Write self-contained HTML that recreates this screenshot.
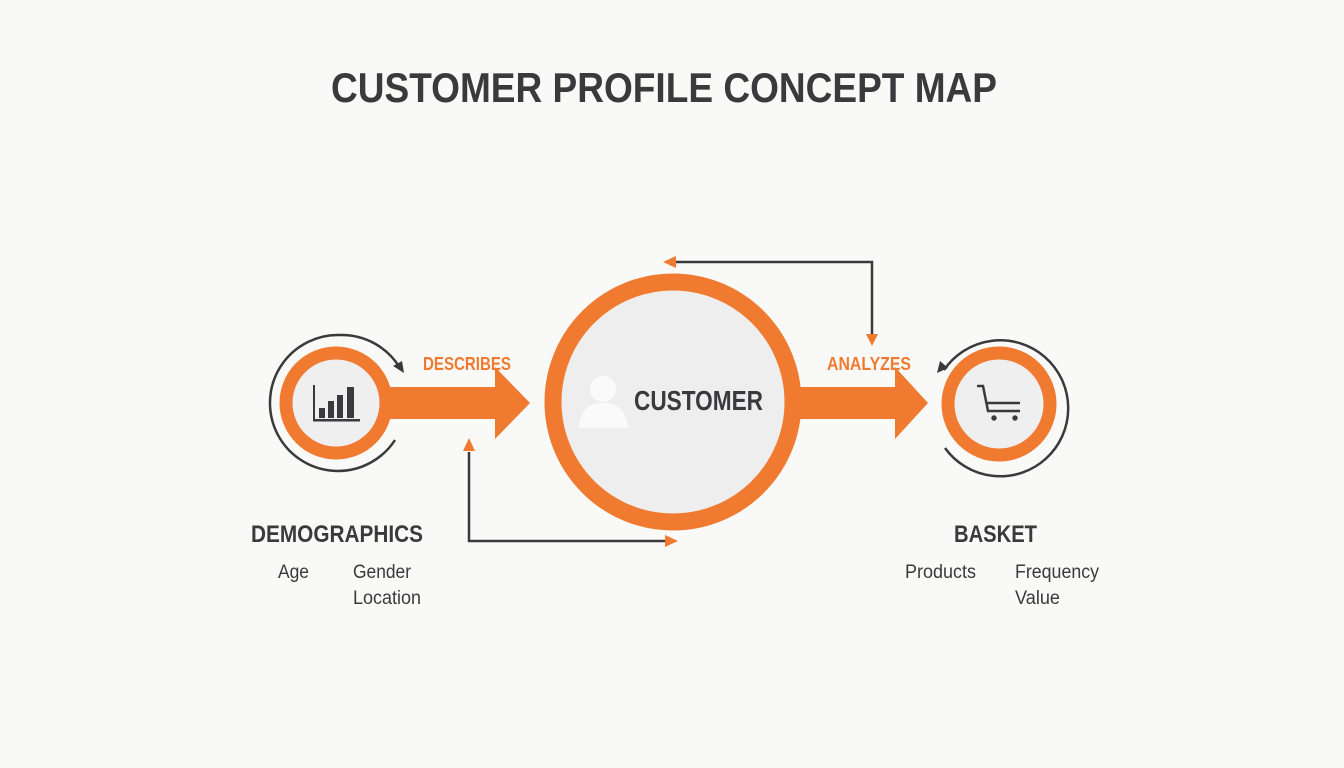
<!DOCTYPE html>
<html><head><meta charset="utf-8"><style>
html,body{margin:0;padding:0;background:#f9f9f8;}
svg{display:block}
text{font-family:"Liberation Sans Narrow","Liberation Sans",sans-serif;}
</style></head><body>
<svg width="1344" height="768" viewBox="0 0 1344 768">
<rect width="1344" height="768" fill="#f9f9f8"/>
<text x="664" y="102" text-anchor="middle" font-size="42" font-weight="bold" fill="#3a3a3c" textLength="666" lengthAdjust="spacingAndGlyphs">CUSTOMER PROFILE CONCEPT MAP</text>

<g stroke="#3a3a3c" stroke-width="2.5" fill="none">
<path d="M872 336 V262 H672"/>
<path d="M469 452 V541 H668"/>
</g>
<polygon points="663,262 676,256 676,268" fill="#f07a30"/>
<polygon points="872,346 866,334 878,334" fill="#f07a30"/>
<polygon points="678,541 665,535 665,547" fill="#f07a30"/>
<polygon points="469,438 463,451 475,451" fill="#f07a30"/>

<rect x="380" y="387" width="118" height="32" fill="#f07a30"/>
<polygon points="495,367 530,403 495,439" fill="#f07a30"/>
<rect x="795" y="387" width="103" height="32" fill="#f07a30"/>
<polygon points="895,367 928,403 895,439" fill="#f07a30"/>

<text x="423" y="370" font-size="18" font-weight="bold" fill="#f07a30" textLength="88" lengthAdjust="spacingAndGlyphs">DESCRIBES</text>
<text x="827" y="370" font-size="18" font-weight="bold" fill="#f07a30" textLength="84" lengthAdjust="spacingAndGlyphs">ANALYZES</text>

<path d="M340 335 A68 68 0 0 1 400 368" stroke="#3a3a3c" stroke-width="2.5" fill="none"/>
<polygon points="404,373 393,366 402,361" fill="#3a3a3c"/>
<path d="M395 440 A68 68 0 1 1 340 335" stroke="#3a3a3c" stroke-width="2.5" fill="none"/>
<circle cx="336" cy="403" r="50" fill="#efefef" stroke="#f07a30" stroke-width="13"/>
<g fill="#3a3a3c">
<rect x="313" y="385" width="2" height="36"/>
<rect x="313" y="419" width="47" height="2.5"/>
<rect x="319" y="408" width="6" height="10"/>
<rect x="328" y="401" width="6" height="17"/>
<rect x="337" y="395" width="6" height="23"/>
<rect x="347" y="387" width="7" height="31"/>
</g>

<circle cx="673" cy="402" r="120" fill="#eeeeee" stroke="#f07a30" stroke-width="17"/>
<circle cx="603" cy="389" r="13" fill="#fafafa"/>
<path d="M579 428 Q580 403 603 403 Q626 403 628 428 Z" fill="#fafafa"/>
<text x="634" y="410" font-size="28" font-weight="bold" fill="#3a3a3c" textLength="129" lengthAdjust="spacingAndGlyphs">CUSTOMER</text>

<path d="M944 370 A68 68 0 1 1 945 448" stroke="#3a3a3c" stroke-width="2.5" fill="none"/>
<polygon points="937,373 940,361 948,368" fill="#3a3a3c"/>
<circle cx="999" cy="404" r="51" fill="#efefef" stroke="#f07a30" stroke-width="13"/>
<path d="M977 386 H983 L988 411 H1020 M986 403 H1020" stroke="#3a3a3c" stroke-width="2.5" fill="none"/>
<circle cx="994" cy="418" r="2.7" fill="#3a3a3c"/>
<circle cx="1015" cy="418" r="2.7" fill="#3a3a3c"/>

<text x="251" y="542" font-size="24" font-weight="bold" fill="#3a3a3c" textLength="172" lengthAdjust="spacingAndGlyphs">DEMOGRAPHICS</text>
<text x="278" y="578" font-size="19" fill="#3a3a3c" textLength="31" lengthAdjust="spacingAndGlyphs">Age</text>
<text x="353" y="578" font-size="19" fill="#3a3a3c" textLength="58" lengthAdjust="spacingAndGlyphs">Gender</text>
<text x="353" y="604" font-size="19" fill="#3a3a3c" textLength="68" lengthAdjust="spacingAndGlyphs">Location</text>
<text x="954" y="542" font-size="24" font-weight="bold" fill="#3a3a3c" textLength="83" lengthAdjust="spacingAndGlyphs">BASKET</text>
<text x="905" y="578" font-size="19" fill="#3a3a3c" textLength="71" lengthAdjust="spacingAndGlyphs">Products</text>
<text x="1015" y="578" font-size="19" fill="#3a3a3c" textLength="84" lengthAdjust="spacingAndGlyphs">Frequency</text>
<text x="1015" y="604" font-size="19" fill="#3a3a3c" textLength="45" lengthAdjust="spacingAndGlyphs">Value</text>
</svg>
</body></html>
